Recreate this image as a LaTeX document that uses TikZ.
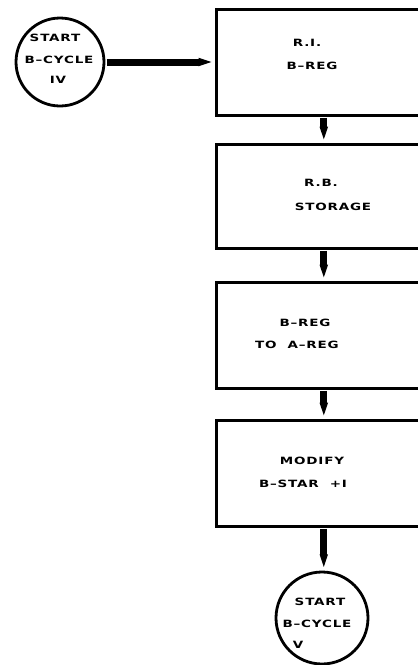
\documentclass[tikz,border=0pt]{standalone}
\usepackage{fontspec}
\setmainfont{DejaVu Sans}[UprightFont=* Bold,FakeStretch=1.35,LetterSpace=8]
\usetikzlibrary{arrows.meta}
\begin{document}
\begin{tikzpicture}[x=1pt,y=-1pt,
  frame/.style={draw, line width=2.6pt, rectangle, minimum width=215pt, inner sep=0pt, anchor=north west},
  circ/.style={draw, circle, line width=2.8pt, minimum size=88pt, inner sep=0pt},
  lbl/.style={inner sep=0pt, font=\fontsize{10}{11}\selectfont},
  flow/.style={line width=7pt, -{Triangle[width=7pt,length=15pt]}, shorten >=1.3pt, shorten <=1.3pt}]
\useasboundingbox (0,0) rectangle (418,665);
\fill[white] (0,0) rectangle (418,665);
% boxes
\node[frame, minimum height=106pt] (b1) at (215,8) {};
\node[frame, minimum height=104pt] (b2) at (215,143) {};
\node[frame, minimum height=106pt] (b3) at (215,281) {};
\node[frame, minimum height=106pt] (b4) at (215,419) {};
% terminals
\node[circ] (c1) at (60,62) {};
\node[circ, minimum size=92pt] (c2) at (322,618) {};
% labels
\node[lbl] (l1) at (55,38) {START};
\node[lbl] (l2) at (59,60) {B–CYCLE};
\node[lbl] (l3) at (58,80) {IV};
\node[lbl] (l4) at (307,43) {R.I.};
\node[lbl] (l5) at (312,66) {B–REG};
\node[lbl] (l6) at (321,183) {R.B.};
\node[lbl] (l7) at (333,207) {STORAGE};
\node[lbl] (l8) at (305,323) {B–REG};
\node[lbl] (l9) at (297,345) {TO\ \ A–REG};
\node[lbl] (l10) at (312,461) {MODIFY};
\node[lbl] (l11) at (303,484) {B–STAR\ \ +I};
\node[lbl] (l12) at (320,602) {START};
\node[lbl] (l13) at (317,624) {B–CYCLE};
\node[lbl] (l14) at (298,645) {V};
% connectors
\draw[flow] (c1.east) -- (c1.east -| b1.west);
\draw[flow] (b1.south) -- (b2.north);
\draw[flow] (b2.south) -- (b3.north);
\draw[flow] (b3.south) -- (b4.north);
\draw[flow] (b4.south) -- (b4.south |- c2.north);
\end{tikzpicture}
\end{document}
